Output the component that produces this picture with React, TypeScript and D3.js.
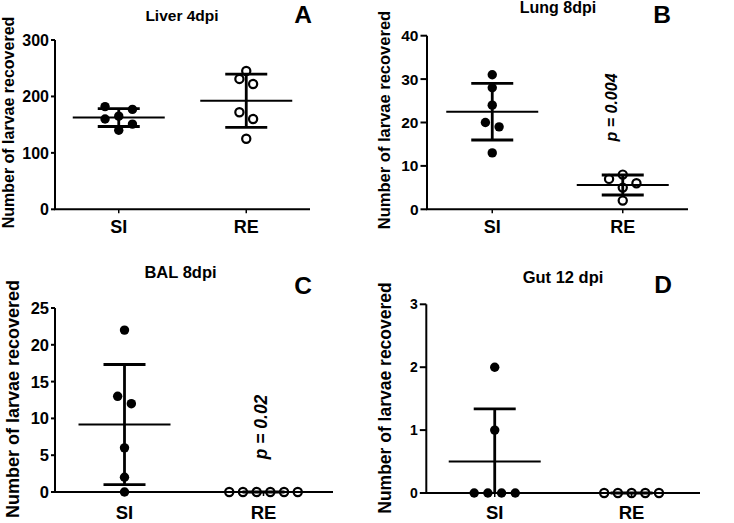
import React from "react";
import * as d3 from "d3";

// ---------- data ----------
const groups = ["SI", "RE"];
const titles = ["Liver 4dpi", "Lung 8dpi", "BAL 8dpi", "Gut 12 dpi"];
const panelLetters = ["A", "B", "C", "D"];
const yLabel = "Number of larvae recovered";

const liverSI = [182, 177, 165, 160, 151, 140];
const liverRE = [245, 231, 222, 172, 160, 125];
const lungSI = [31, 28, 24, 20, 19, 13];
const lungRE = [8, 7, 6, 5, 2];
const balSI = [22, 13, 12, 6, 2, 0];
const balRE = [0, 0, 0, 0, 0, 0];
const gutSI = [2, 1, 0, 0, 0, 0];
const gutRE = [0, 0, 0, 0, 0];

const liverTicks = [0, 100, 200, 300];
const lungTicks = [0, 10, 20, 30, 40];
const balTicks = [0, 5, 10, 15, 20, 25];
const gutTicks = [0, 1, 2, 3];

const pValues = ["", "p = 0.004", "p = 0.02", ""];

const panelData = [
  { si: liverSI, re: liverRE, ticks: liverTicks },
  { si: lungSI, re: lungRE, ticks: lungTicks },
  { si: balSI, re: balRE, ticks: balTicks },
  { si: gutSI, re: gutRE, ticks: gutTicks },
];

// ---------- layout (pixels) ----------
const layouts = [
  { x0: 55, x1: 310, yTop: 40, yBot: 209.3, tickLen: 4, tickPad: 6, tickFont: 16, xFont: 18, xDy: 24,
    ylX: 14, ylY: 122.5, ylFont: 16, tX: 182, tY: 20.7, tFont: 15.5, lX: 303, lY: 23.3, pX: 0, pY: 0, pFont: 16 },
  { x0: 427, x1: 688, yTop: 35.7, yBot: 209.3, tickLen: 6.5, tickPad: 8.5, tickFont: 15.5, xFont: 18, xDy: 24,
    ylX: 390, ylY: 120, ylFont: 16.5, tX: 558, tY: 12.5, tFont: 16, lX: 662, lY: 22.7, pX: 617, pY: 107.5, pFont: 16 },
  { x0: 55, x1: 333, yTop: 308, yBot: 492, tickLen: 4, tickPad: 6, tickFont: 16.5, xFont: 18.5, xDy: 26.5,
    ylX: 19, ylY: 399, ylFont: 18, tX: 180.5, tY: 278, tFont: 16.5, lX: 303, lY: 294, pX: 267, pY: 427, pFont: 17.5 },
  { x0: 426.3, x1: 700, yTop: 304.3, yBot: 493, tickLen: 6.5, tickPad: 8.5, tickFont: 14, xFont: 18.5, xDy: 26,
    ylX: 391, ylY: 398, ylFont: 17.5, tX: 563, tY: 282.7, tFont: 16.5, lX: 663, lY: 292.7, pX: 0, pY: 0, pFont: 16 },
];

const FONT = "'Liberation Sans', Arial, Helvetica, sans-serif";
const STEP = 13.7;
const BIN = 12.5;

function dodge(values: number[], y: (v: number) => number): number[] {
  const idx = values.map((_, i) => i).sort((a, b) => values[a] - values[b]);
  const offsets = new Array(values.length).fill(0);
  let bin: number[] = [];
  let startY = 0;
  const flush = () => {
    const n = bin.length;
    const desc = [...bin].sort((a, b) => values[b] - values[a]);
    const slots = d3.range(n).map((k) => (k - (n - 1) / 2) * STEP);
    if (n % 2 === 1 && n > 1 && values[desc[0]] !== values[desc[n - 1]]) {
      const center = (n - 1) / 2;
      offsets[desc[n - 1]] = 0;
      const rest = slots.filter((_, k) => k !== center);
      desc.slice(0, n - 1).forEach((i, k) => (offsets[i] = rest[k]));
    } else {
      desc.forEach((i, k) => (offsets[i] = slots[k]));
    }
  };
  idx.forEach((i) => {
    const py = y(values[i]);
    if (bin.length && startY - py < BIN) bin.push(i);
    else {
      if (bin.length) flush();
      bin = [i];
      startY = py;
    }
  });
  if (bin.length) flush();
  return offsets;
}

function Panel({ k }: { k: number }) {
  const L = layouts[k];
  const D = panelData[k];
  const ticks = D.ticks;
  const y = d3.scaleLinear().domain([0, ticks[ticks.length - 1]]).range([L.yBot, L.yTop]);
  const x = d3.scalePoint<string>().domain(groups).range([L.x0, L.x1]).padding(0.5);
  const series = [D.si, D.re];

  return (
    <g>
      {/* title & panel letter */}
      <text x={L.tX} y={L.tY} textAnchor="middle" fontFamily={FONT} fontWeight="bold" fontSize={L.tFont}>
        {titles[k]}
      </text>
      <text x={L.lX} y={L.lY} textAnchor="middle" fontFamily={FONT} fontWeight="bold" fontSize={24.5}>
        {panelLetters[k]}
      </text>
      {/* y label */}
      <text
        transform={`translate(${L.ylX},${L.ylY}) rotate(-90)`}
        textAnchor="middle"
        fontFamily={FONT}
        fontWeight="bold"
        fontSize={L.ylFont}
      >
        {yLabel}
      </text>
      {/* axes */}
      <line x1={L.x0} x2={L.x0} y1={L.yTop} y2={L.yBot} stroke="#000" strokeWidth={2} />
      <line x1={L.x0 - 1} x2={L.x1} y1={L.yBot} y2={L.yBot} stroke="#000" strokeWidth={2} />
      {ticks.map((t) => (
        <g key={t}>
          <line x1={L.x0 - L.tickLen} x2={L.x0} y1={y(t)} y2={y(t)} stroke="#000" strokeWidth={2} />
          <text
            x={L.x0 - L.tickPad}
            y={y(t)}
            dy="0.36em"
            textAnchor="end"
            fontFamily={FONT}
            fontWeight="bold"
            fontSize={L.tickFont}
          >
            {t}
          </text>
        </g>
      ))}
      {groups.map((g) => (
        <g key={g}>
          <line x1={x(g)!} x2={x(g)!} y1={L.yBot} y2={L.yBot + 4} stroke="#000" strokeWidth={1.5} />
          <text
            x={x(g)!}
            y={L.yBot + L.xDy}
            textAnchor="middle"
            fontFamily={FONT}
            fontWeight="bold"
            fontSize={L.xFont}
          >
            {g}
          </text>
        </g>
      ))}
      {/* mean ± SD */}
      {series.map((vals, gi) => {
        const cx = x(groups[gi])!;
        const m = d3.mean(vals)!;
        const sd = d3.deviation(vals) ?? 0;
        const hi = m + sd;
        const lo = Math.max(0, m - sd);
        return (
          <g key={"e" + gi}>
            <line x1={cx} x2={cx} y1={y(hi)} y2={y(lo)} stroke="#000" strokeWidth={2.8} />
            <line x1={cx - 21} x2={cx + 21} y1={y(hi)} y2={y(hi)} stroke="#000" strokeWidth={2.8} />
            {m - sd > 0 && (
              <line x1={cx - 21} x2={cx + 21} y1={y(lo)} y2={y(lo)} stroke="#000" strokeWidth={2.8} />
            )}
            <line x1={cx - 46} x2={cx + 46} y1={y(m)} y2={y(m)} stroke="#000" strokeWidth={2} />
          </g>
        );
      })}
      {/* points */}
      {series.map((vals, gi) => {
        const cx = x(groups[gi])!;
        const offs = dodge(vals, y);
        return vals.map((v, i) =>
          gi === 0 ? (
            <circle key={`p${gi}-${i}`} cx={cx + offs[i]} cy={y(v)} r={4.7} fill="#000" />
          ) : (
            <circle
              key={`p${gi}-${i}`}
              cx={cx + offs[i]}
              cy={y(v)}
              r={4.1}
              fill="none"
              stroke="#000"
              strokeWidth={2.2}
            />
          )
        );
      })}
      {/* p value */}
      {pValues[k] && (
        <text
          transform={`translate(${L.pX},${L.pY}) rotate(-90)`}
          textAnchor="middle"
          fontFamily={FONT}
          fontWeight="bold"
          fontStyle="italic"
          fontSize={L.pFont}
        >
          {pValues[k]}
        </text>
      )}
    </g>
  );
}

export default function App() {
  return (
    <svg
      width={734}
      height={523}
      viewBox="0 0 734 523"
      style={{ position: "absolute", left: 0, top: 0, background: "#fff" }}
    >
      <rect width={734} height={523} fill="#fff" />
      {[0, 1, 2, 3].map((k) => (
        <Panel key={k} k={k} />
      ))}
    </svg>
  );
}
